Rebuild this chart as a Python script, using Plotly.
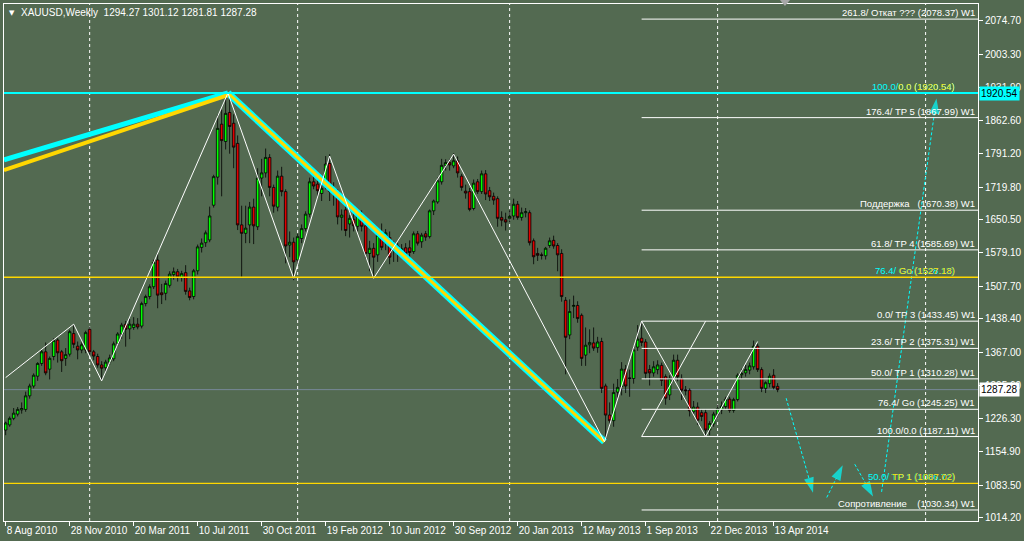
import plotly.graph_objects as go
import pandas as pd

# ---------------- data ----------------
symbol = "XAUUSD,Weekly"
first_week = "2010-08-08"

open_ = [1201, 1212, 1226, 1235, 1244, 1245, 1274, 1295, 1316, 1343,
         1368, 1331, 1358, 1393, 1368, 1354, 1363, 1407, 1380, 1372,
         1372, 1416, 1368, 1358, 1340, 1334, 1346, 1353, 1386, 1406,
         1427, 1417, 1420, 1427, 1423, 1471, 1486, 1507, 1564, 1494,
         1493, 1510, 1533, 1539, 1527, 1537, 1498, 1486, 1541, 1591,
         1601, 1607, 1681, 1741, 1854, 1817, 1879, 1856, 1813, 1639,
         1621, 1639, 1677, 1635, 1739, 1750, 1783, 1719, 1677, 1743,
         1710, 1596, 1602, 1564, 1610, 1631, 1662, 1731, 1726, 1706,
         1722, 1770, 1710, 1710, 1655, 1671, 1641, 1651, 1636, 1662,
         1637, 1578, 1589, 1575, 1620, 1601, 1612, 1585, 1594, 1578,
         1590, 1590, 1582, 1620, 1603, 1620, 1614, 1669, 1688, 1731,
         1766, 1772, 1765, 1776, 1743, 1711, 1710, 1674, 1731, 1710,
         1748, 1712, 1700, 1695, 1655, 1650, 1653, 1658, 1683, 1655,
         1665, 1665, 1605, 1578, 1575, 1573, 1595, 1606, 1595, 1578,
         1478, 1404, 1465, 1467, 1446, 1361, 1383, 1387, 1377, 1390,
         1295, 1233, 1221, 1282, 1294, 1331, 1311, 1311, 1378, 1397,
         1389, 1330, 1323, 1330, 1339, 1315, 1276, 1314, 1350, 1311,
         1287, 1286, 1240, 1250, 1238, 1238, 1201, 1214, 1235, 1244,
         1251, 1267, 1243, 1266, 1319, 1323, 1329, 1336, 1380, 1330,
         1290, 1300, 1318, 1294.27]
high = [1219, 1230, 1248, 1250, 1260, 1283, 1300, 1322, 1346, 1372,
        1388, 1358, 1397, 1397, 1372, 1376, 1415, 1425, 1390, 1388,
        1413, 1422, 1372, 1364, 1348, 1351, 1362, 1390, 1410, 1430,
        1434, 1438, 1442, 1440, 1475, 1490, 1512, 1565, 1577, 1513,
        1520, 1540, 1548, 1545, 1541, 1553, 1505, 1545, 1597, 1610,
        1627, 1678, 1746, 1874, 1885, 1920, 1920, 1875, 1830, 1680,
        1680, 1688, 1695, 1760, 1780, 1802, 1790, 1725, 1755, 1763,
        1715, 1625, 1612, 1620, 1640, 1668, 1740, 1745, 1737, 1725,
        1786, 1790, 1730, 1715, 1672, 1680, 1660, 1664, 1665, 1670,
        1645, 1605, 1600, 1625, 1642, 1630, 1625, 1605, 1600, 1598,
        1600, 1606, 1625, 1626, 1622, 1626, 1672, 1693, 1740, 1780,
        1779, 1780, 1792, 1785, 1748, 1725, 1718, 1736, 1737, 1755,
        1756, 1720, 1708, 1700, 1668, 1665, 1670, 1695, 1690, 1676,
        1675, 1670, 1610, 1590, 1580, 1592, 1612, 1616, 1600, 1587,
        1485, 1480, 1488, 1476, 1450, 1420, 1416, 1420, 1400, 1398,
        1300, 1260, 1300, 1310, 1346, 1340, 1330, 1380, 1425, 1433,
        1395, 1340, 1348, 1350, 1345, 1320, 1318, 1362, 1362, 1320,
        1295, 1290, 1263, 1260, 1245, 1245, 1220, 1240, 1255, 1262,
        1272, 1272, 1270, 1322, 1332, 1340, 1345, 1392, 1385, 1335,
        1305, 1322, 1331, 1301.12]
low = [1190, 1208, 1222, 1230, 1236, 1240, 1268, 1290, 1306, 1338,
       1318, 1309, 1350, 1345, 1325, 1338, 1358, 1376, 1352, 1365,
       1365, 1362, 1350, 1334, 1308, 1326, 1340, 1348, 1380, 1396,
       1379, 1395, 1415, 1416, 1418, 1465, 1480, 1502, 1461, 1470,
       1478, 1505, 1522, 1518, 1518, 1490, 1478, 1480, 1533, 1580,
       1592, 1602, 1676, 1725, 1700, 1800, 1791, 1760, 1628, 1528,
       1600, 1600, 1598, 1628, 1700, 1740, 1700, 1665, 1668, 1700,
       1557, 1570, 1521, 1555, 1600, 1625, 1655, 1715, 1700, 1690,
       1715, 1690, 1680, 1640, 1627, 1615, 1612, 1625, 1625, 1625,
       1568, 1540, 1527, 1560, 1585, 1585, 1555, 1560, 1560, 1568,
       1570, 1568, 1577, 1595, 1590, 1605, 1610, 1660, 1684, 1725,
       1755, 1755, 1760, 1740, 1712, 1695, 1668, 1670, 1705, 1705,
       1692, 1690, 1682, 1635, 1636, 1627, 1645, 1650, 1650, 1648,
       1655, 1595, 1555, 1562, 1565, 1565, 1590, 1588, 1540, 1475,
       1320, 1395, 1440, 1430, 1338, 1338, 1365, 1370, 1366, 1280,
       1180, 1209, 1208, 1270, 1275, 1280, 1272, 1300, 1370, 1380,
       1310, 1296, 1315, 1320, 1295, 1255, 1265, 1305, 1305, 1265,
       1275, 1230, 1235, 1212, 1220, 1186, 1190, 1208, 1225, 1235,
       1245, 1238, 1238, 1262, 1310, 1315, 1320, 1330, 1325, 1282,
       1280, 1292, 1288, 1281.81]
close = [1216, 1226, 1237, 1245, 1247, 1274, 1295, 1318, 1343, 1368,
         1323, 1354, 1392, 1366, 1349, 1362, 1411, 1384, 1372, 1383,
         1409, 1368, 1359, 1340, 1333, 1346, 1355, 1385, 1406, 1425,
         1416, 1427, 1427, 1421, 1471, 1486, 1507, 1559, 1489, 1490,
         1514, 1534, 1539, 1528, 1535, 1497, 1484, 1541, 1592, 1600,
         1622, 1658, 1742, 1845, 1819, 1877, 1849, 1805, 1639, 1621,
         1632, 1677, 1637, 1739, 1750, 1783, 1719, 1679, 1743, 1710,
         1594, 1602, 1560, 1614, 1631, 1662, 1731, 1722, 1712, 1717,
         1769, 1710, 1706, 1656, 1660, 1627, 1653, 1637, 1660, 1636,
         1578, 1589, 1570, 1617, 1591, 1622, 1570, 1594, 1578, 1588,
         1578, 1580, 1620, 1600, 1617, 1613, 1669, 1690, 1733, 1766,
         1772, 1767, 1776, 1750, 1719, 1707, 1672, 1728, 1710, 1748,
         1705, 1699, 1692, 1653, 1649, 1645, 1657, 1683, 1655, 1665,
         1667, 1601, 1571, 1574, 1574, 1589, 1605, 1594, 1575, 1486,
         1399, 1454, 1467, 1439, 1354, 1382, 1388, 1376, 1389, 1290,
         1233, 1221, 1281, 1292, 1331, 1295, 1312, 1372, 1395, 1388,
         1322, 1323, 1336, 1340, 1307, 1269, 1311, 1350, 1315, 1286,
         1285, 1242, 1250, 1222, 1230, 1201, 1215, 1235, 1247, 1252,
         1267, 1243, 1266, 1318, 1322, 1330, 1338, 1380, 1330, 1290,
         1302, 1316, 1292, 1287.28]

dates = pd.date_range(first_week, periods=len(close), freq="7D")

# x-axis labels: every 16th weekly bar
tick_dates = dates[::16]
tick_text = [f"{d.day} {d.strftime('%b %Y')}" for d in tick_dates]

# price-scale labels
y_ticks = [2074.70, 2003.30, 1931.90, 1862.60, 1791.20, 1719.80, 1650.50,
           1579.10, 1507.70, 1438.40, 1367.00, 1295.60, 1226.30, 1154.90,
           1083.50, 1014.20]

x_view = ["2010-08-05 02:00", "2015-04-05 17:00"]
y_view = [1006.8, 2110.6]

# yearly period separators
year_separators = ["2011-01-02", "2012-01-01", "2013-01-06", "2014-01-05", "2015-01-04"]

# full-width horizontal levels
cyan_level = 1920.54
gold_levels = [1527.18, 1087.02]
bid_price = close[-1]

# weekly Fibo (white) levels, drawn from the Aug 2013 swing high
fib_start = "2013-08-25"
fib_prices = [2078.37, 1867.99, 1670.38, 1585.69, 1433.45, 1375.31, 1310.28,
              1245.25, 1187.11, 1030.34]
fib_labels = ["261.8/ Откат ??? (2078.37) W1",
              "176.4/ TP 5 (1867.99) W1",
              "Поддержка\u00a0\u00a0\u00a0(1670.38) W1",
              "61.8/ TP 4 (1585.69) W1",
              "0.0/ TP 3 (1433.45) W1",
              "23.6/ TP 2 (1375.31) W1",
              "50.0/ TP 1 (1310.28) W1",
              "76.4/ Go (1245.25) W1",
              "100.0/0.0 (1187.11) W1",
              "Сопротивление\u00a0\u00a0\u00a0\u00a0(1030.34) W1"]

# overlapping cyan / gold level captions
dual_prices = [1920.54, 1527.18, 1087.02]
dual_cyan = ["100.0/0.0 (1920.54)", "76.4/ Go (1528.13)", "50.0/ TP 1 (1086.72)"]
dual_gold = ["0.0 (1920.54)", "Go (1527.18)", "TP 1 (1087.02)"]

# ZigZag swing points
zz_dates = ["2010-08-08", "2010-12-05", "2011-01-23", "2011-09-01", "2011-12-25",
            "2012-02-26", "2012-05-13", "2012-09-30", "2013-06-21", "2013-08-25",
            "2013-12-15", "2014-03-16"]
zz_prices = [1313, 1427, 1306, 1920.54, 1525, 1786, 1525, 1790, 1176, 1433.45,
             1187.11, 1390]

# crossing diagonal of the Aug-Dec 2013 box
cross_dates = ["2013-08-25", "2013-12-15"]
cross_prices = [1187.11, 1433.45]

# trend lines
up_cyan_dates = ["2010-08-05", "2011-09-01"]
up_cyan_prices = [1778, 1920.54]
up_gold_dates = ["2010-08-05", "2011-09-01"]
up_gold_prices = [1756, 1916]
down_dates = ["2011-09-01", "2013-06-21"]
down_prices = [1920.54, 1176]

# projected path arrows
arrow_x0 = ["2014-05-05", "2014-07-15", "2014-09-02", "2014-10-19"]
arrow_y0 = [1269, 1057, 1128, 1069]
arrow_x1 = ["2014-06-21", "2014-08-12", "2014-10-04", "2015-01-23"]
arrow_y1 = [1067, 1126, 1059, 1909]

# ---------------- style ----------------
BG = "#536A51"
CYAN = "#00FFFF"
GOLD = "#FFD700"
FONT = "Tahoma, 'Liberation Sans', Arial, sans-serif"
FS = 9

fig = go.Figure()

# trend lines (under candles)
fig.add_trace(go.Scatter(x=down_dates, y=down_prices, mode="lines",
                         line=dict(color=CYAN, width=7), hoverinfo="skip", showlegend=False))
fig.add_trace(go.Scatter(x=down_dates, y=down_prices, mode="lines",
                         line=dict(color=GOLD, width=3), hoverinfo="skip", showlegend=False))
fig.add_trace(go.Scatter(x=up_cyan_dates, y=up_cyan_prices, mode="lines",
                         line=dict(color=CYAN, width=5), hoverinfo="skip", showlegend=False))
fig.add_trace(go.Scatter(x=up_gold_dates, y=up_gold_prices, mode="lines",
                         line=dict(color=GOLD, width=4), hoverinfo="skip", showlegend=False))

# candles
fig.add_trace(go.Candlestick(
    x=dates, open=open_, high=high, low=low, close=close,
    increasing=dict(line=dict(color="black", width=0.8), fillcolor="#00FF00"),
    decreasing=dict(line=dict(color="black", width=0.8), fillcolor="#E00000"),
    whiskerwidth=0, showlegend=False, hoverinfo="skip"))

# zigzag and box diagonal
fig.add_trace(go.Scatter(x=zz_dates, y=zz_prices, mode="lines",
                         line=dict(color="white", width=1), hoverinfo="skip", showlegend=False))
fig.add_trace(go.Scatter(x=cross_dates, y=cross_prices, mode="lines",
                         line=dict(color="white", width=1), hoverinfo="skip", showlegend=False))

# arrows
for x0, y0, x1, y1 in zip(arrow_x0, arrow_y0, arrow_x1, arrow_y1):
    fig.add_trace(go.Scatter(
        x=[x0, x1], y=[y0, y1], mode="lines+markers",
        line=dict(color=CYAN, width=1, dash="3px,2px"),
        marker=dict(symbol="arrow", size=[0, 16], color=CYAN, angleref="previous",
                    line=dict(width=0)),
        hoverinfo="skip", showlegend=False))

shapes = []
# year separators
for d in year_separators:
    shapes.append(dict(type="line", xref="x", yref="paper", x0=d, x1=d, y0=0, y1=1,
                       line=dict(color="white", width=1, dash="3px,3px"), layer="below"))
# full-width levels
shapes.append(dict(type="line", xref="paper", yref="y", x0=0, x1=1, y0=bid_price, y1=bid_price,
                   line=dict(color="#778899", width=1), layer="below"))
for p in gold_levels:
    shapes.append(dict(type="line", xref="paper", yref="y", x0=0, x1=1, y0=p, y1=p,
                       line=dict(color=GOLD, width=1.3)))
shapes.append(dict(type="line", xref="paper", yref="y", x0=0, x1=1, y0=cyan_level, y1=cyan_level,
                   line=dict(color=CYAN, width=2)))
# fibo W1 levels
for p in fib_prices:
    shapes.append(dict(type="line", xref="x", yref="y", x0=fib_start, x1=x_view[1], y0=p, y1=p,
                       line=dict(color="white", width=1)))
# chart-shift marker
shapes.append(dict(type="path", xref="paper", yref="paper",
                   path="M 0.7967 1.0077 L 0.8070 1.0077 L 0.8018 0.9961 Z",
                   fillcolor="#A8A8A8", line=dict(width=0)))

annotations = []
for p, t in zip(fib_prices, fib_labels):
    annotations.append(dict(xref="paper", yref="y", x=0.999, y=p, text=t, showarrow=False,
                            xanchor="right", yanchor="bottom", yshift=-1,
                            font=dict(family=FONT, size=FS + 0.5, color="white")))
for p, tc, tg in zip(dual_prices, dual_cyan, dual_gold):
    for t, c in ((tc, CYAN), (tg, GOLD)):
        annotations.append(dict(xref="paper", yref="y", x=0.978, y=p, text=t, showarrow=False,
                                xanchor="right", yanchor="bottom", yshift=-1,
                                font=dict(family=FONT, size=FS + 0.5, color=c)))
# price boxes on the scale
annotations.append(dict(xref="paper", yref="y", x=1, xshift=1, y=cyan_level,
                        text=f"{cyan_level:.2f}", showarrow=False, xanchor="left", yanchor="middle",
                        bgcolor=CYAN, borderpad=1, font=dict(family=FONT, size=FS + 1, color="black")))
annotations.append(dict(xref="paper", yref="y", x=1, xshift=1, y=bid_price,
                        text=f"{bid_price:.2f}", showarrow=False, xanchor="left", yanchor="middle",
                        bgcolor="white", borderpad=1, font=dict(family=FONT, size=FS + 1, color="black")))
# header
annotations.append(dict(xref="paper", yref="paper", x=0.0035, y=0.9826, text="▼", showarrow=False,
                        xanchor="left", yanchor="middle", font=dict(family="DejaVu Sans", size=7, color="white")))
hdr = f"{symbol}\u00a0\u00a0{open_[-1]:.2f} {high[-1]:.2f} {low[-1]:.2f} {close[-1]:.2f}"
annotations.append(dict(xref="paper", yref="paper", x=0.0155, y=0.9826, text=hdr, showarrow=False,
                        xanchor="left", yanchor="middle", font=dict(family=FONT, size=FS + 1, color="white")))

fig.update_layout(
    width=1024, height=541,
    margin=dict(l=4, r=46, t=4, b=20, autoexpand=False),
    paper_bgcolor=BG, plot_bgcolor=BG,
    showlegend=False, boxgap=0.1,
    shapes=shapes, annotations=annotations,
    font=dict(family=FONT, size=FS, color="white"),
    xaxis=dict(type="date", range=x_view, rangeslider=dict(visible=False),
               tickvals=list(tick_dates), ticktext=tick_text, tickangle=0,
               ticks="outside", ticklen=4, tickcolor="white",
               ticklabelposition="outside right", automargin=False,
               showgrid=False, zeroline=False,
               showline=True, linecolor="white", linewidth=1, mirror=True,
               tickfont=dict(family=FONT, size=FS + 1, color="white")),
    yaxis=dict(range=y_view, side="right", tickvals=y_ticks,
               ticktext=[f"{v:.2f}" for v in y_ticks], automargin=False,
               ticks="outside", ticklen=4, tickcolor="white",
               showgrid=False, zeroline=False,
               showline=True, linecolor="white", linewidth=1, mirror=True,
               tickfont=dict(family=FONT, size=FS + 1, color="white")),
)

fig.write_html("out.html", config={"displayModeBar": False},
               post_script="document.body.style.margin='0';")
